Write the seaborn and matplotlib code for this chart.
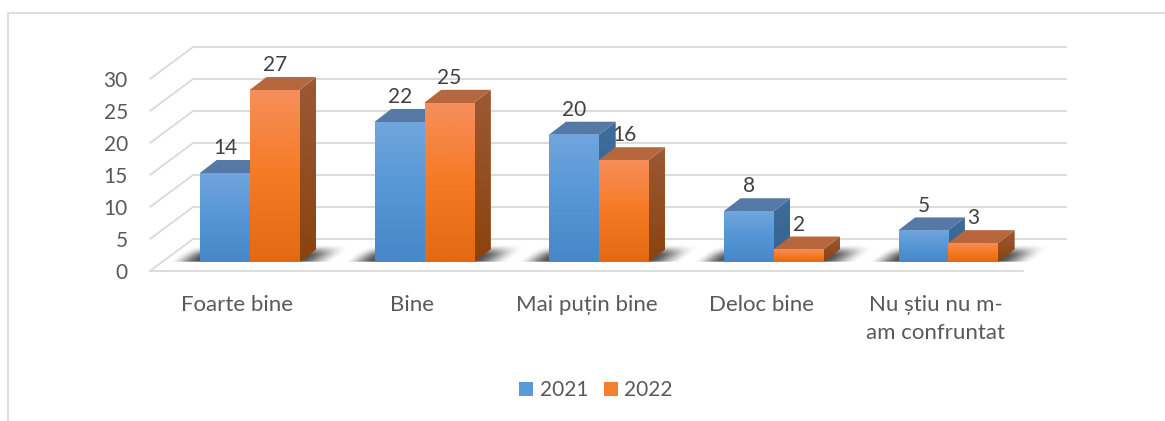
import numpy as np
import pandas as pd
import seaborn as sns
import matplotlib.pyplot as plt
from matplotlib.colors import LinearSegmentedColormap
from matplotlib.patches import Polygon

categories = ['Foarte bine', 'Bine', 'Mai puțin bine', 'Deloc bine', 'Nu știu nu m-\nam confruntat']
values_2021 = [14, 22, 20, 8, 5]
values_2022 = [27, 25, 16, 2, 3]
y_ticks = [0, 5, 10, 15, 20, 25, 30]

W, H = 1165, 421
GRID = '#d9d9d9'

# pixel geometry of the fake 3d box
FRONT_L, FRONT_R, FRONT_Y0, FRONT_Y30 = 150, 1023, 271, 79
WALL_DX, WALL_DY = 43, 32
BAR_SHIFT_X, BAR_BASE_Y, BAR_PX_UNIT = 12.7, 262, 6.38
BAR_DX, BAR_DY = 16.5, 12.7
BAR_WIDTH = 0.57

FACES = {
    '2021': dict(front=['#70a6dd', '#5596d6', '#4687c9'], side=['#3f6d9b', '#356391'], top=['#5679a6', '#5679a6']),
    '2022': dict(front=['#f68f5c', '#f67a24', '#e46913'], side=['#9b5a35', '#8b420e'], top=['#b6683d', '#b6683d']),
}
LEGEND_COLORS = {'2021': '#5a9ad9', '2022': '#f47f2e'}

plt.rcParams['figure.dpi'] = 100
sns.set_theme(style='white')
plt.rcParams['font.family'] = ['Lato', 'Noto Sans', 'DejaVu Sans']


def rect(left, right, y_bottom, y_top):
    return [left / W, 1 - y_bottom / H, (right - left) / W, (y_bottom - y_top) / H]


def smooth(t):
    t = np.clip(t, 0, 1)
    return t * t * (3 - 2 * t)


def gradient(ax, patch, colors, z):
    verts = patch.get_path().transformed(patch.get_patch_transform()).vertices
    x0, y0 = verts.min(axis=0)
    x1, y1 = verts.max(axis=0)
    cmap = LinearSegmentedColormap.from_list('face', colors)
    img = ax.imshow(np.linspace(0, 1, 128).reshape(-1, 1), cmap=cmap, extent=(x0, x1, y0, y1),
                    origin='upper', aspect='auto', interpolation='bilinear', zorder=z)
    img.set_clip_path(patch)
    img.set_clip_on(True)


fig = plt.figure(figsize=(W / 100, H / 100), dpi=100, facecolor='white')

# chart border, cut off at the bottom and right of the screenshot
frame = fig.add_axes([0, 0, 1, 1], zorder=-1)
frame.set_xlim(0, W)
frame.set_ylim(H, 0)
frame.axis('off')
frame.plot([8, 8, 1165], [H, 13, 13], color=GRID, lw=1.2)

# front plane: tick labels and walls
ax = fig.add_axes(rect(FRONT_L, FRONT_R, FRONT_Y0, FRONT_Y30), zorder=0)
ax.set_xlim(-0.5, 4.5)
ax.set_ylim(0, 30)
ax.patch.set_alpha(0)
sns.despine(ax=ax, left=True, bottom=True, top=True, right=True)
px_x = (FRONT_R - FRONT_L) / 5
px_y = (FRONT_Y0 - FRONT_Y30) / 30
wall_dx, wall_dy = WALL_DX / px_x, WALL_DY / px_y
for v in y_ticks:
    ax.plot([-0.5, -0.5 + wall_dx, 4.5 + wall_dx], [v, v + wall_dy, v + wall_dy],
            color=GRID, lw=1.3, clip_on=False, solid_joinstyle='miter')
ax.plot([-0.5, 4.5], [0, 0], color=GRID, lw=1.3, clip_on=False)
ax.set_yticks(y_ticks)
ax.set_xticks(range(5))
ax.set_xticklabels(categories, linespacing=1.5)
ax.tick_params(axis='y', length=0, pad=16, labelsize=15, labelcolor='#595959')
ax.tick_params(axis='x', length=0, pad=17.5, labelsize=16, labelcolor='#595959')

# bar plane
bx = fig.add_axes(rect(FRONT_L + BAR_SHIFT_X, FRONT_R + BAR_SHIFT_X, BAR_BASE_Y, BAR_BASE_Y - 30 * BAR_PX_UNIT), zorder=1)
bx.patch.set_alpha(0)

df = pd.DataFrame({
    'categorie': categories * 2,
    'an': ['2021'] * 5 + ['2022'] * 5,
    'valoare': values_2021 + values_2022,
})
sns.barplot(data=df, x='categorie', y='valoare', hue='an', palette=LEGEND_COLORS,
            width=BAR_WIDTH, gap=0, linewidth=0, saturation=1, ax=bx)
bx.set_xlim(-0.5, 4.5)
bx.set_ylim(0, 30)
bx.axis('off')

bar_px_x = (FRONT_R - FRONT_L) / 5
ddx, ddy = BAR_DX / bar_px_x, BAR_DY / BAR_PX_UNIT
# the side and top faces run a little under the front face, no gap after pixel snapping
ovl_x, ovl_y = 1.5 / bar_px_x, 1.5 / BAR_PX_UNIT

# blurred floor shadow of each group
for i in range(5):
    left = i - BAR_WIDTH / 2
    right = i + BAR_WIDTH / 2
    sx0, sx1 = left - 45 / bar_px_x, right + 70 / bar_px_x
    sy0, sy1 = 0, 19 / BAR_PX_UNIT
    xs = np.linspace(sx0, sx1, 300) * bar_px_x
    ys = np.linspace(sy1, sy0, 40) * BAR_PX_UNIT
    xx, yy = np.meshgrid(xs, ys)
    uu = xx - yy * BAR_DX / BAR_DY
    a = smooth((uu - (left * bar_px_x - 32)) / 30)
    a *= smooth(((right * bar_px_x + 34) - uu) / 36)
    a *= smooth((18 - yy) / 12)
    a *= smooth((yy + 1) / 2)
    shade = np.zeros(a.shape + (4,))
    shade[..., :3] = 0.2
    shade[..., 3] = a * 0.85
    bx.imshow(shade, extent=(sx0, sx1, sy0, sy1), aspect='auto', origin='upper',
              interpolation='bilinear', zorder=1, clip_on=False)

# 3d faces, 2021 under 2022
series = dict(zip(['2021', '2022'], bx.containers))
for k, (year, cont) in enumerate(series.items()):
    faces = FACES[year]
    base_z = 2 + 4 * k
    for bar in cont:
        x0, x1 = bar.get_x(), bar.get_x() + bar.get_width()
        v = bar.get_height()
        side = Polygon([(x1 - ovl_x, 0), (x1, 0), (x1 + ddx, ddy), (x1 + ddx, v + ddy), (x1, v), (x1 - ovl_x, v)],
                       closed=True, fc='none', ec='none', transform=bx.transData)
        top = Polygon([(x0, v - ovl_y), (x0, v), (x0 + ddx, v + ddy), (x1 + ddx, v + ddy), (x1, v), (x1, v - ovl_y)],
                      closed=True, fc='none', ec='none', transform=bx.transData)
        bx.add_patch(side)
        bx.add_patch(top)
        gradient(bx, side, faces['side'], base_z)
        gradient(bx, top, faces['top'], base_z + 1)
        bar.set_facecolor(faces['front'][0])
        bar.set_zorder(base_z + 1.5)
        gradient(bx, bar, faces['front'], base_z + 2)
    bx.bar_label(cont, labels=[str(int(b.get_height())) for b in cont], padding=10.5,
                 fontsize=15, color='#404040', zorder=20)
bx.set_xlim(-0.5, 4.5)
bx.set_ylim(0, 30)

sns.move_legend(bx, 'center', bbox_to_anchor=(596 / W, 1 - 390 / H), bbox_transform=fig.transFigure,
                ncol=2, frameon=False, title=None, fontsize=15, labelcolor='#595959',
                handlelength=0.67, handleheight=0.67, handletextpad=0.3, columnspacing=0.75)

fig.savefig('out.png', dpi=100)
